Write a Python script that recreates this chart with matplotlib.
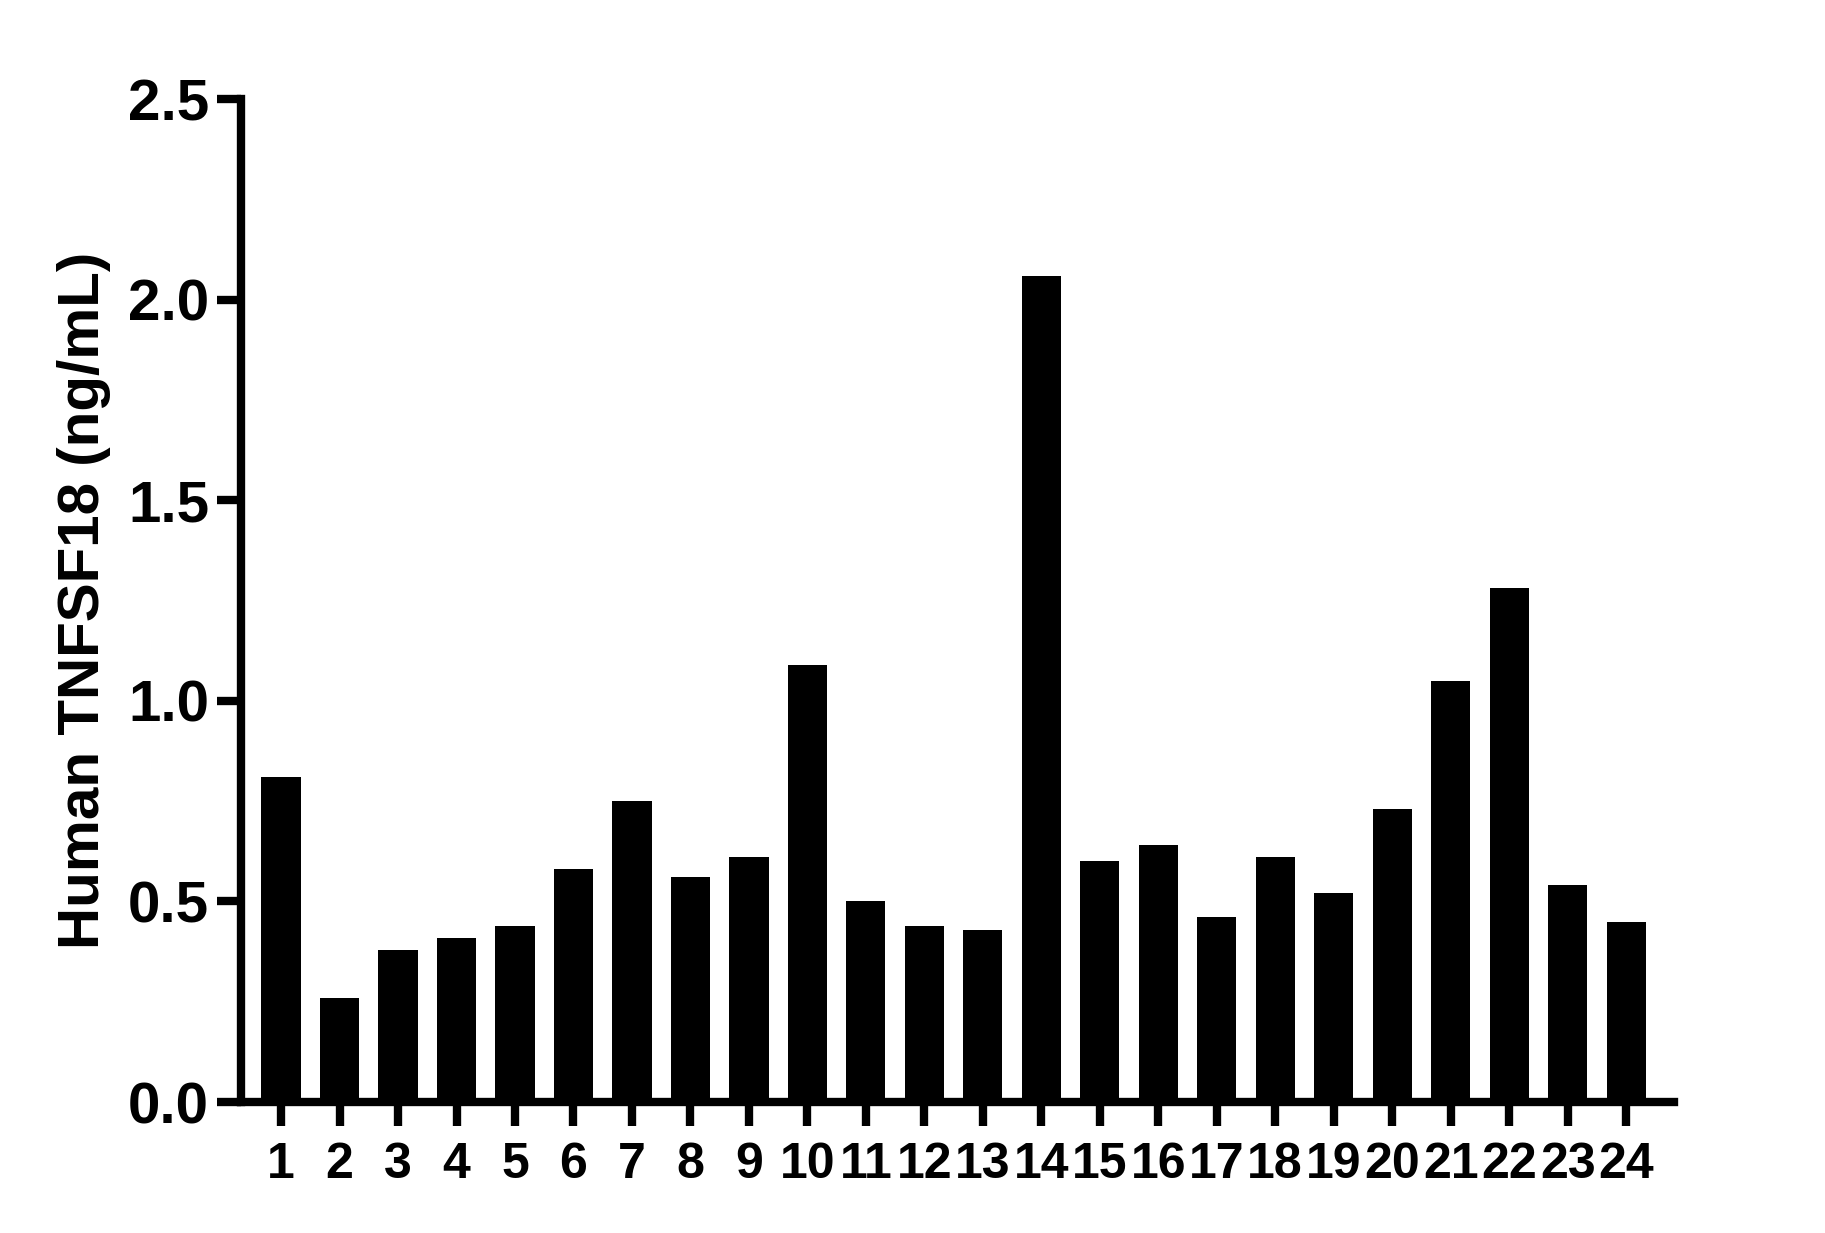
import matplotlib
matplotlib.use("Agg")
import matplotlib.pyplot as plt
import numpy as np

# sample numbers and measured concentrations
samples = [str(i) for i in range(1, 25)]
tnfsf18 = [0.81, 0.26, 0.38, 0.41, 0.44, 0.58, 0.75, 0.56, 0.61, 1.09,
           0.50, 0.44, 0.43, 2.06, 0.60, 0.64, 0.46, 0.61, 0.52, 0.73,
           1.05, 1.28, 0.54, 0.45]
y_ticks = [0.0, 0.5, 1.0, 1.5, 2.0, 2.5]
y_label = "Human TNFSF18 (ng/mL)"

plt.rcParams['font.family'] = ['Liberation Sans', 'DejaVu Sans']
plt.rcParams['font.weight'] = 'bold'

fig = plt.figure(figsize=(18.25, 12.33), dpi=100)
ax = fig.add_axes([0.1321, 0.1062, 0.9173 - 0.1321, 0.9197 - 0.1062])

x = np.arange(1, len(samples) + 1)
ax.bar(x, tnfsf18, width=0.67, color='black', edgecolor='none')

ax.set_xlim(0.316, 24.82)
ax.set_ylim(0, 2.5)
ax.set_yticks(y_ticks)
ax.set_yticklabels([f"{v:.1f}" for v in y_ticks], fontsize=42, fontweight='bold')
ax.set_xticks(x)
ax.set_xticklabels(samples, fontsize=36, fontweight='bold')

for side in ['top', 'right']:
    ax.spines[side].set_visible(False)
for side in ['left', 'bottom']:
    ax.spines[side].set_linewidth(6)
ax.spines['left'].set_capstyle('projecting')

ax.tick_params(axis='both', width=6, length=17, color='black')
ax.tick_params(axis='y', pad=6)
ax.tick_params(axis='x', pad=12)

ax.set_ylabel(y_label, fontsize=42, fontweight='bold', labelpad=12)

fig.savefig("out.png", dpi=100)
